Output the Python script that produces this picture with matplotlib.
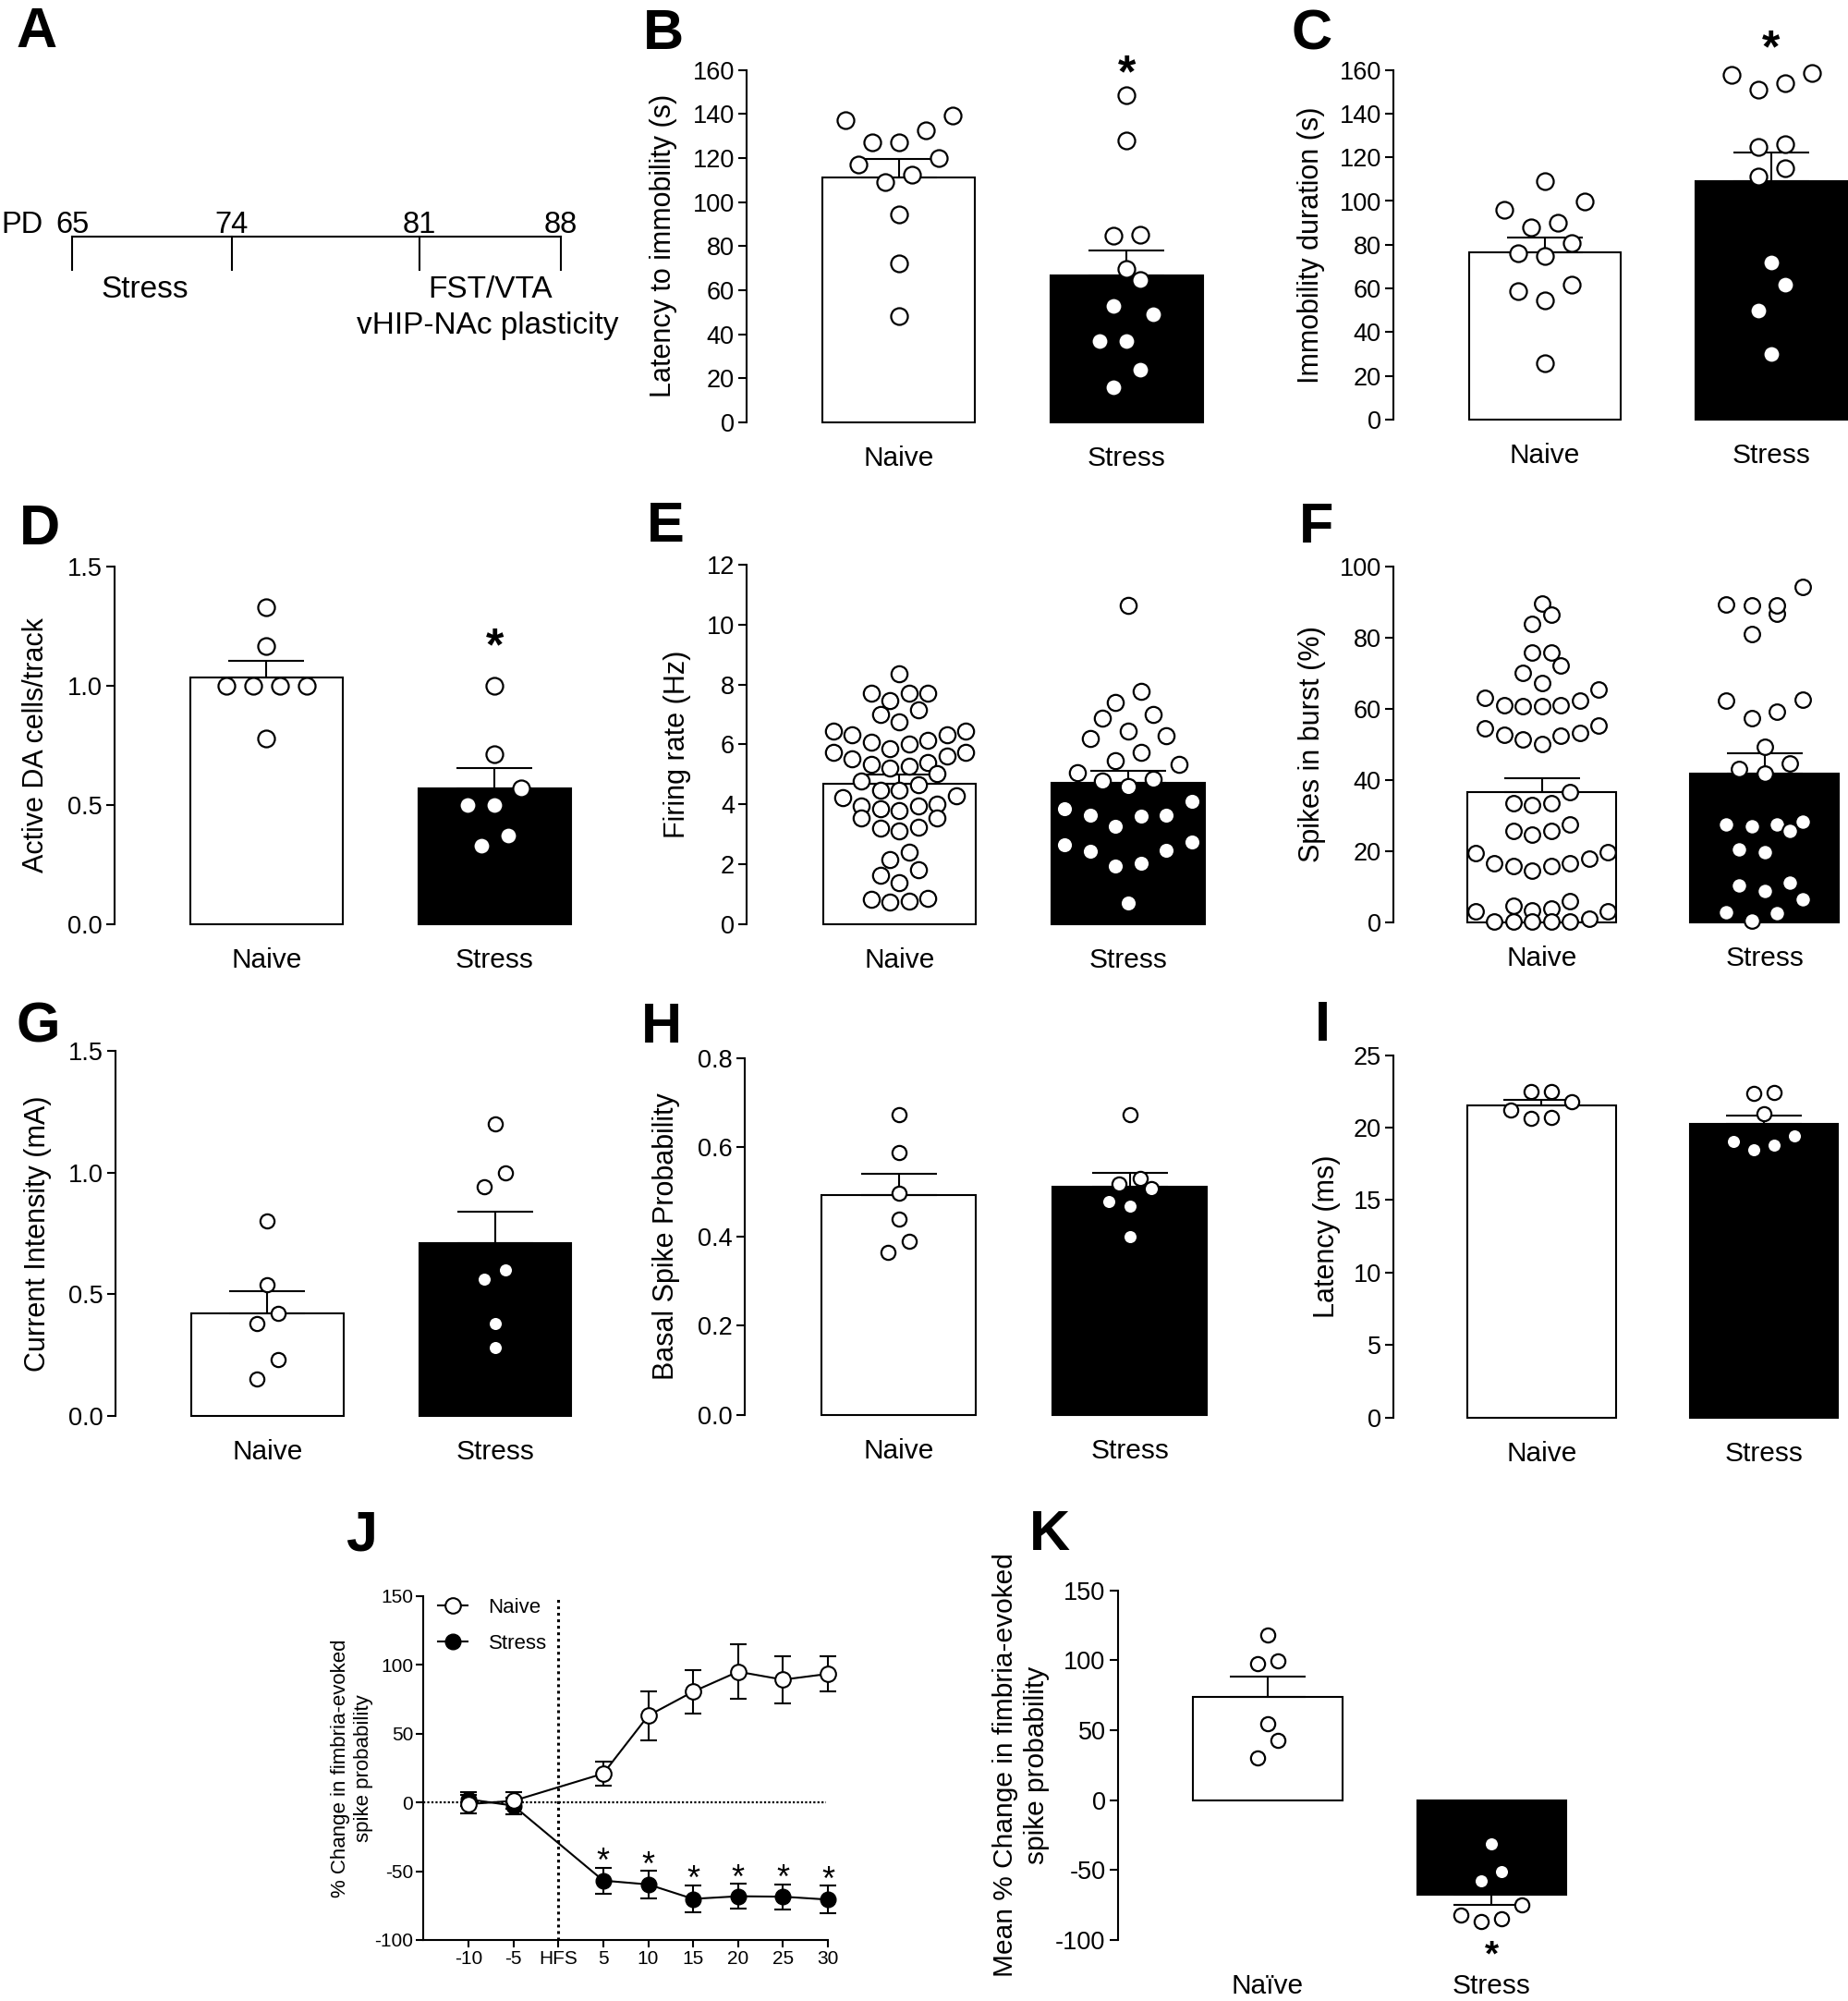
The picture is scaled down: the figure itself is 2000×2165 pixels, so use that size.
import numpy as np
import matplotlib.pyplot as plt
from matplotlib.lines import Line2D

plt.rcParams['font.family'] = ['Liberation Sans', 'DejaVu Sans']
plt.rcParams['axes.unicode_minus'] = False

W, H = 2000, 2165

groups = ['Naive', 'Stress']

# A - timeline
A_days = ['65', '74', '81', '88']
A_phases = ['Stress', 'FST/VTA\nvHIP-NAc plasticity']

# B - latency to immobility (s)
latency_naive = [139.1, 132.6, 127.0, 127.0, 137.2, 120.1, 117.0, 112.4, 108.9, 94.3, 72.3, 48.1]
latency_stress = [148.3, 128.0, 84.6, 85.3, 69.6, 64.4, 52.9, 49.1, 37.0, 37.0, 24.1, 16.1]
latency_mean = [111.3, 66.5]
latency_sem = [8.1, 11.4]

# C - immobility duration (s)
immob_naive = [108.9, 99.9, 95.8, 89.9, 88.0, 80.6, 75.0, 75.9, 61.9, 58.8, 54.6, 25.9]
immob_stress = [158.7, 153.8, 150.9, 157.6, 124.7, 126.1, 114.9, 111.0, 71.7, 61.9, 50.0, 30.1]
immob_mean = [76.4, 109.3]
immob_sem = [6.7, 13.0]

# D - active DA cells / track
da_naive = [1.33, 1.166, 1.0, 1.0, 1.0, 1.0, 0.779]
da_stress = [1.0, 0.714, 0.570, 0.498, 0.498, 0.373, 0.328]
da_mean = [1.035, 0.570]
da_sem = [0.068, 0.085]

# E - firing rate (Hz)
firing_naive = [8.35, 7.72, 7.70, 7.72, 7.45, 7.01, 7.14, 6.74, 6.44, 6.31, 6.44, 6.33,
                6.14, 6.00, 6.07, 5.74, 5.86, 5.61, 5.74, 5.53, 5.41, 5.27, 5.32, 5.22,
                5.03, 4.64, 4.78, 4.47, 4.47, 4.23, 4.28, 4.02, 3.93, 3.86, 3.93, 3.78,
                3.53, 3.53, 3.23, 3.20, 3.10, 2.40, 2.14, 1.83, 1.38, 1.62, 0.83, 0.73,
                0.78, 0.87]
firing_stress = [10.64, 7.77, 7.41, 6.99, 6.89, 6.44, 6.28, 6.21, 5.74, 5.45, 5.34, 5.06,
                 4.78, 4.59, 4.85, 3.86, 3.63, 3.26, 3.62, 3.65, 4.09, 2.73, 2.45, 2.03,
                 1.93, 2.42, 2.66, 0.70]
firing_mean = [4.70, 4.72]
firing_sem = [0.28, 0.39]

# F - spikes in burst (%)
burst_naive = [89.5, 86.4, 83.8, 75.7, 75.7, 72.1, 70.2, 67.3, 65.5, 63.2, 62.3, 61.0,
               60.8, 60.8, 61.0, 55.3, 54.4, 53.1, 52.4, 50.0, 51.5, 52.6, 36.7, 33.6,
               32.9, 33.6, 25.6, 24.7, 25.6, 27.4, 19.5, 18.0, 16.7, 15.8, 14.5, 15.8,
               16.7, 19.7, 6.1, 4.6, 3.1, 3.1, 3.5, 3.9, 0.2, 0.2, 0.2, 0.2, 0.2, 1.1]
burst_stress = [94.3, 89.0, 86.8, 89.0, 89.2, 81.1, 62.5, 62.3, 59.2, 57.5, 49.4, 44.6,
                41.8, 43.0, 27.4, 27.4, 28.2, 25.6, 26.9, 19.7, 20.6, 10.3, 8.9, 11.1,
                6.6, 2.8, 2.6, 0.4]
burst_mean = [36.6, 41.8]
burst_sem = [3.8, 5.7]

# G - current intensity (mA)
current_naive = [0.80, 0.54, 0.42, 0.38, 0.23, 0.15]
current_stress = [1.20, 1.00, 0.94, 0.60, 0.56, 0.38, 0.28]
current_mean = [0.421, 0.708]
current_sem = [0.092, 0.130]

# H - basal spike probability
basal_naive = [0.673, 0.589, 0.496, 0.439, 0.389, 0.365]
basal_stress = [0.673, 0.531, 0.518, 0.507, 0.479, 0.468, 0.400]
basal_mean = [0.492, 0.512]
basal_sem = [0.049, 0.030]

# I - latency (ms)
lat_naive = [22.48, 22.48, 21.78, 21.21, 20.64, 20.73]
lat_stress = [22.38, 22.42, 20.94, 19.46, 19.04, 18.78, 18.46]
lat_mean = [21.53, 20.26]
lat_sem = [0.38, 0.59]

# J - time course (% change)
J_ticks = ['-10', '-5', 'HFS', '5', '10', '15', '20', '25', '30']
J_times = ['-10', '-5', '5', '10', '15', '20', '25', '30']
J_naive_mean = [-1.2, 1.2, 21.0, 63.1, 80.6, 95.1, 89.3, 93.5]
J_naive_sem = [6.8, 6.0, 8.5, 17.7, 15.7, 19.8, 17.3, 13.0]
J_stress_mean = [2.3, -2.3, -56.8, -59.6, -70.1, -68.2, -68.5, -70.6]
J_stress_sem = [5.0, 6.0, 9.5, 10.0, 10.0, 9.0, 9.0, 10.0]
J_sig = [False, False, True, True, True, True, True, True]

# K - mean % change
change_naive = [118.3, 97.6, 99.9, 54.6, 42.5, 30.5]
change_stress = [-31.1, -51.1, -58.0, -75.2, -82.1, -87.1, -85.1]
change_mean = [73.7, -67.8]
change_sem = [14.7, 7.4]


fig = plt.figure(figsize=(W / 100, H / 100), dpi=100)

# overlay in pixel coords for panel A and panel letters
ov = fig.add_axes([0, 0, 1, 1], zorder=-1)
ov.set_xlim(0, W)
ov.set_ylim(H, 0)
ov.axis('off')


def swarm(values, center, dx, dy, max_row):
    # GraphPad-like rows: close values share a row, lowest in the middle
    values = np.asarray(values, float)
    order = np.argsort(values, kind='stable')
    xs = np.empty(len(values))
    i = 0
    while i < len(order):
        row = [order[i]]
        j = i + 1
        while j < len(order) and values[order[j]] - values[order[i]] < dy and len(row) < max_row:
            row.append(order[j])
            j += 1
        k = len(row)
        slots = sorted(np.arange(k) - (k - 1) / 2, key=lambda s: (abs(s), s))
        for idx, s in zip(row, slots):
            xs[idx] = center + s * dx
        i = j
    return xs


def star(ax, x, y, size, weight='bold'):
    ax.annotate('*', (x, y), xytext=(0, -0.58 * size), textcoords='offset points',
                ha='center', va='baseline', fontsize=size, fontweight=weight,
                annotation_clip=False)


def bar_panel(lay, naive, stress, mean, sem, ylim, yticks, fmt, ylabel,
              xlabels=groups):
    x0, top, bottom, sp = lay['x'], lay['top'], lay['bottom'], lay['sp']
    wpx, hpx = 2 * sp, bottom - top
    ax = fig.add_axes([x0 / W, 1 - bottom / H, wpx / W, hpx / H])
    ax.set_xlim(-0.667, 1.333)
    ax.set_ylim(*ylim)
    ax.bar([0, 1], mean, width=0.667, color=['white', 'black'], edgecolor='black',
           linewidth=1.5, clip_on=False, zorder=2)
    for i in range(2):
        err = [[0], [sem[i]]] if mean[i] >= 0 else [[sem[i]], [0]]
        ax.errorbar(i, mean[i], yerr=err, fmt='none', ecolor='black', elinewidth=1.5,
                    capsize=29.5, capthick=1.5, zorder=3, clip_on=False)
    for i, vals in enumerate([naive, stress]):
        step = lay['step'][i]
        dx = step / wpx * 2.0
        dy = step / hpx * (ylim[1] - ylim[0])
        xs = swarm(vals, i, dx, dy, lay['row'][i])
        ax.plot(xs, vals, 'o', ms=lay['ms'], mfc='white', mec='black', mew=1.6,
                clip_on=False, zorder=4)
    for s in ['top', 'right', 'bottom']:
        ax.spines[s].set_visible(False)
    ax.spines['left'].set_linewidth(1.5)
    ax.set_yticks(yticks)
    ax.set_yticklabels([fmt.format(t) for t in yticks])
    ax.tick_params(axis='y', length=6.5, width=1.5, labelsize=19.5, pad=3)
    ax.set_xticks([0, 1])
    ax.set_xticklabels(xlabels)
    ax.tick_params(axis='x', length=0, labelsize=21.5, pad=lay.get('xpad', 18))
    ax.set_ylabel(ylabel, fontsize=lay.get('yfs', 22), va='center',
                  linespacing=1.25)
    ax.yaxis.set_label_coords((lay['lx'] - x0) / wpx, 0.5)
    return ax


layout = {
    'B': dict(x=808, top=75.6, bottom=457, sp=246.8, lx=718, ms=13, step=(29, 29), row=(6, 6)),
    'C': dict(x=1508, top=75.6, bottom=454, sp=245.4, lx=1419, ms=13, step=(29, 29), row=(6, 6)),
    'D': dict(x=123.6, top=612.8, bottom=999.8, sp=247, lx=39, ms=13, step=(29, 29), row=(6, 6)),
    'E': dict(x=808.4, top=611, bottom=999.8, sp=247.5, lx=733, ms=12.5, step=(20.5, 27.5), row=(8, 6)),
    'F': dict(x=1508, top=612.8, bottom=998, sp=241, lx=1420, ms=12, step=(20.5, 27.5), row=(8, 6)),
    'G': dict(x=125, top=1137, bottom=1531.6, sp=246.5, lx=41, ms=11, step=(23, 23), row=(6, 6)),
    'H': dict(x=806, top=1144.7, bottom=1531, sp=250, lx=721, ms=11, step=(23, 23), row=(6, 6)),
    'I': dict(x=1508, top=1141.7, bottom=1533.6, sp=240.5, lx=1436, ms=11, step=(22, 22), row=(6, 6)),
    'K': dict(x=1209.8, top=1720.8, bottom=2099, sp=242.75, lx=1105, ms=11, step=(22, 22),
              row=(6, 6), xpad=26, yfs=21.5),
}

axB = bar_panel(layout['B'], latency_naive, latency_stress, latency_mean, latency_sem,
                (0, 160), np.arange(0, 161, 20), '{:.0f}', 'Latency to immobility (s)')
star(axB, 1, 164.4, 36)

axC = bar_panel(layout['C'], immob_naive, immob_stress, immob_mean, immob_sem,
                (0, 160), np.arange(0, 161, 20), '{:.0f}', 'Immobility duration (s)')
star(axC, 1, 175.9, 36)

axD = bar_panel(layout['D'], da_naive, da_stress, da_mean, da_sem,
                (0, 1.5), [0, 0.5, 1.0, 1.5], '{:.1f}', 'Active DA cells/track')
star(axD, 1, 1.22, 36)

bar_panel(layout['E'], firing_naive, firing_stress, firing_mean, firing_sem,
          (0, 12), np.arange(0, 13, 2), '{:.0f}', 'Firing rate (Hz)')

bar_panel(layout['F'], burst_naive, burst_stress, burst_mean, burst_sem,
          (0, 100), np.arange(0, 101, 20), '{:.0f}', 'Spikes in burst (%)')

bar_panel(layout['G'], current_naive, current_stress, current_mean, current_sem,
          (0, 1.5), [0, 0.5, 1.0, 1.5], '{:.1f}', 'Current Intensity (mA)')

bar_panel(layout['H'], basal_naive, basal_stress, basal_mean, basal_sem,
          (0, 0.8), [0, 0.2, 0.4, 0.6, 0.8], '{:.1f}', 'Basal Spike Probability')

bar_panel(layout['I'], lat_naive, lat_stress, lat_mean, lat_sem,
          (0, 25), np.arange(0, 26, 5), '{:.0f}', 'Latency (ms)')

axK = bar_panel(layout['K'], change_naive, change_stress, change_mean, change_sem,
                (-100, 150), np.arange(-100, 151, 50), '{:.0f}',
                'Mean % Change in fimbria-evoked\nspike probability',
                xlabels=['Naïve', 'Stress'])
star(axK, 1, -103.0, 28)

# J - time course
jx0, jx1, jtop, jbot = 458.4, 896, 1727, 2099
axJ = fig.add_axes([jx0 / W, 1 - jbot / H, (jx1 - jx0) / W, (jbot - jtop) / H])
axJ.set_xlim(-1, 8)
axJ.set_ylim(-100, 150)
pos = [J_ticks.index(t) for t in J_times]
hfs = J_ticks.index('HFS')
axJ.plot([-1, 7.95], [0, 0], color='black', lw=1.6, ls=(0, (1, 1)), zorder=1)
axJ.plot([hfs, hfs], [-100, 150], color='black', lw=2.2, ls=(0, (1, 1.3)), zorder=1)
axJ.errorbar(pos, J_stress_mean, yerr=J_stress_sem, fmt='-o', color='black', mfc='black',
             mec='black', ms=12, lw=1.5, elinewidth=1.5, capsize=6.5, capthick=1.5,
             zorder=3, clip_on=False)
axJ.errorbar(pos, J_naive_mean, yerr=J_naive_sem, fmt='-o', color='black', mfc='white',
             mec='black', mew=1.5, ms=12, lw=1.5, elinewidth=1.5, capsize=6.5,
             capthick=1.5, zorder=4, clip_on=False)
for p, m, s, sig in zip(pos, J_stress_mean, J_stress_sem, J_sig):
    if sig:
        star(axJ, p, m + s + 11, 26, weight='normal')
for s in ['top', 'right']:
    axJ.spines[s].set_visible(False)
for s in ['left', 'bottom']:
    axJ.spines[s].set_linewidth(1.5)
axJ.set_xticks(range(len(J_ticks)))
axJ.set_xticklabels(J_ticks)
axJ.set_yticks(np.arange(-100, 151, 50))
axJ.tick_params(length=5.5, width=1.5, labelsize=15, pad=2.5)
axJ.set_ylabel('% Change in fimbria-evoked\nspike probability', fontsize=16, va='center')
axJ.yaxis.set_label_coords((381 - jx0) / (jx1 - jx0), 0.5)
handles = [Line2D([], [], color='black', lw=1.5, marker='o', ms=12, mfc='white', mec='black', mew=1.5),
           Line2D([], [], color='black', lw=1.5, marker='o', ms=12, mfc='black', mec='black')]
axJ.legend(handles, groups, loc='upper left', bbox_to_anchor=(0.036, 0.995), frameon=False,
           fontsize=16, handlelength=1.45, handletextpad=1.0, labelspacing=0.8,
           borderaxespad=0, borderpad=0)

# A - timeline
A_x = [78, 251, 454, 607]
line_y, tick_y = 256, 292
ov.plot([A_x[0], A_x[-1]], [line_y, line_y], color='black', lw=1.5)
for x in A_x:
    ov.plot([x, x], [line_y, tick_y], color='black', lw=1.5)
for x, d in zip(A_x, A_days):
    ov.text(x, 252, d, ha='center', va='baseline', fontsize=23.5)
ov.text(1, 252, 'PD', ha='left', va='baseline', fontsize=23.5)
ov.text((A_x[0] + A_x[1]) / 2 - 8, 321.7, A_phases[0], ha='center', va='baseline', fontsize=24)
ov.text((A_x[2] + A_x[3]) / 2, 321.7, A_phases[1].split('\n')[0], ha='center', va='baseline', fontsize=24)
ov.text((A_x[2] + A_x[3]) / 2 - 3, 361.4, A_phases[1].split('\n')[1], ha='center', va='baseline', fontsize=24)

# panel letters
letters = {'A': (17, 7), 'B': (696, 9), 'C': (1398, 9), 'D': (21, 545), 'E': (700, 542),
           'F': (1406, 543), 'G': (18, 1083), 'H': (694, 1084), 'I': (1423, 1082),
           'J': (374, 1633), 'K': (1114, 1633)}
for k, (x, y) in letters.items():
    ov.text(x, y, k, ha='left', va='top', fontsize=44, fontweight='bold')

fig.savefig('out.png', dpi=100)
